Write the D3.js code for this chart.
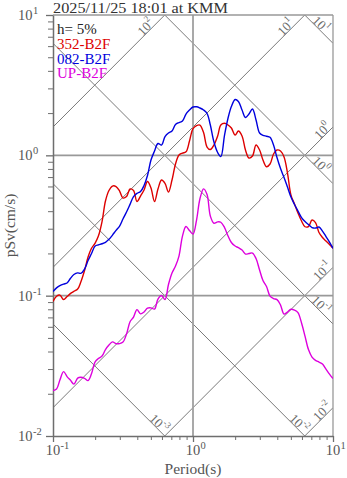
<!DOCTYPE html>
<html>
<head>
<meta charset="utf-8">
<script src="https://cdn.jsdelivr.net/npm/d3@7"></script>
<style>
  html, body { margin: 0; padding: 0; background: #fff; }
  svg { display: block; }
  text { font-family: "Liberation Serif", "Times New Roman", serif; }
</style>
</head>
<body>
<div id="chart"></div>
<script>
// Natural periods (s) shared by the three spectra
const periods = [0.100, 0.106, 0.112, 0.119, 0.126, 0.133, 0.141, 0.150, 0.158, 0.168,
  0.178, 0.188, 0.200, 0.211, 0.224, 0.237, 0.251, 0.266, 0.282, 0.299,
  0.316, 0.335, 0.355, 0.376, 0.398, 0.422, 0.447, 0.473, 0.501, 0.531,
  0.562, 0.596, 0.631, 0.668, 0.708, 0.750, 0.794, 0.841, 0.891, 0.944,
  1.00, 1.06, 1.12, 1.19, 1.26, 1.33, 1.41, 1.50, 1.58, 1.68,
  1.78, 1.88, 2.00, 2.11, 2.24, 2.37, 2.51, 2.66, 2.82, 2.99,
  3.16, 3.35, 3.55, 3.76, 3.98, 4.22, 4.47, 4.73, 5.01, 5.31,
  5.62, 5.96, 6.31, 6.68, 7.08, 7.50, 7.94, 8.41, 8.91, 9.44, 10.0];

// Pseudo velocity response (cm/s), damping h = 5%
const sv352 = [0.0908, 0.0990, 0.1010, 0.0938, 0.0985, 0.1035, 0.1073, 0.1114, 0.1250, 0.1510,
  0.1884, 0.2167, 0.2371, 0.2659, 0.3374, 0.4724, 0.5613, 0.6043, 0.5993, 0.5567,
  0.4962, 0.5085, 0.5753, 0.5613, 0.4685, 0.5128, 0.5660, 0.6505, 0.5848, 0.4685,
  0.5753, 0.6667, 0.6316, 0.5475, 0.6667, 0.867, 1.005, 1.038, 1.059, 1.264,
  1.552, 1.631, 1.644, 1.454, 1.146, 1.100, 1.184, 1.373, 1.644, 1.691,
  1.644, 1.565, 1.395, 1.490, 1.373, 1.091, 0.957, 0.989, 1.184, 1.091,
  0.926, 0.829, 0.867, 1.022, 1.091, 1.073, 0.972, 0.748, 0.521, 0.4496,
  0.3879, 0.3402, 0.3098, 0.3108, 0.3458, 0.3319, 0.2817, 0.2595, 0.2449, 0.2312, 0.2174];

const sv082 = [0.1070, 0.1136, 0.1180, 0.1210, 0.1230, 0.1324, 0.1414, 0.1454, 0.1442, 0.1547,
  0.1779, 0.1989, 0.2258, 0.2302, 0.2344, 0.2399, 0.2519, 0.2703, 0.2920, 0.3133,
  0.3516, 0.3943, 0.4474, 0.5085, 0.5360, 0.5521, 0.6092, 0.7178, 0.9259, 1.073,
  1.214, 1.184, 1.361, 1.442, 1.490, 1.658, 1.713, 1.756, 1.969, 2.103,
  2.210, 2.217, 2.174, 2.103, 1.986, 1.644, 1.250, 1.047, 0.980, 1.395,
  1.845, 2.228, 2.499, 2.418, 2.103, 1.860, 1.969, 2.138, 1.785, 1.442,
  1.389, 1.368, 1.344, 1.184, 0.9645, 0.805, 0.695, 0.594, 0.5044, 0.4460,
  0.4009, 0.3603, 0.3374, 0.3211, 0.3058, 0.3032, 0.3083, 0.2887, 0.2638, 0.2410, 0.2174];

const svUP = [0.02106, 0.02159, 0.02503, 0.02877, 0.02651, 0.02503, 0.02344, 0.02586, 0.02620, 0.02577,
  0.02483, 0.02762, 0.03380, 0.03562, 0.03711, 0.04128, 0.04445, 0.04685, 0.04556, 0.04556,
  0.04670, 0.05324, 0.06516, 0.07039, 0.07959, 0.07419, 0.07641, 0.08157, 0.0819, 0.08025,
  0.09458, 0.1002, 0.0938, 0.1200, 0.1449, 0.1626, 0.1915, 0.2659, 0.3108, 0.2911,
  0.2749, 0.3458, 0.4882, 0.5772, 0.5254, 0.3693, 0.3281, 0.3357, 0.3335, 0.3058,
  0.2659, 0.2391, 0.2258, 0.2198, 0.2113, 0.1980, 0.1996, 0.2012, 0.1838, 0.1522,
  0.1281, 0.1161, 0.0993, 0.0954, 0.0937, 0.0857, 0.0739, 0.0764, 0.0800, 0.0789,
  0.0758, 0.0638, 0.0515, 0.04128, 0.03651, 0.03458, 0.03362, 0.03254, 0.02998, 0.02762, 0.02565];

const seriesNames = ["352-B2F", "082-B2F", "UP-B2F"];
const seriesColors = ["#dd0000", "#0000dd", "#dd00dd"];
const seriesValues = [sv352, sv082, svUP];

// Tripartite guide lines: constant acceleration (cm/s²) and displacement (cm)
const accelLevels = [0.01, 0.1, 1, 10, 100];
const dispLevels = [0.001, 0.01, 0.1, 1, 10];
const accelLabels = ["-2", "-1", "0", "1", "2"];
const dispLabels = ["-3", "-2", "-1", "0", "1"];

const xMajor = [0.1, 1, 10];
const yMajor = [0.01, 0.1, 1, 10];
const xExp = ["-1", "0", "1"];
const yExp = ["-2", "-1", "0", "1"];

const titleText = "2025/11/25 18:01 at KMM";
const dampingText = "h= 5%";

const W = 347, H = 478;
const L = 53, R = 333, T = 15, B = 436;

const svg = d3.select("#chart").append("svg").attr("width", W).attr("height", H);

const x = d3.scaleLog().domain([0.1, 10]).range([L, R]);
const y = d3.scaleLog().domain([0.01, 10]).range([B, T]);

svg.append("defs").append("clipPath").attr("id", "plotclip")
  .append("rect").attr("x", L).attr("y", T).attr("width", R - L).attr("height", B - T);

const guide = svg.append("g").attr("clip-path", "url(#plotclip)");
const TWO_PI = 2 * Math.PI;

// acceleration lines: Sv = Sa*T/(2π)
accelLevels.forEach(sa => {
  guide.append("line")
    .attr("x1", x(0.1)).attr("y1", y(sa * 0.1 / TWO_PI))
    .attr("x2", x(10)).attr("y2", y(sa * 10 / TWO_PI))
    .attr("stroke", "#7a7a7a").attr("stroke-width", 1);
});
// displacement lines: Sv = 2π*D/T
dispLevels.forEach(d => {
  guide.append("line")
    .attr("x1", x(0.1)).attr("y1", y(TWO_PI * d / 0.1))
    .attr("x2", x(10)).attr("y2", y(TWO_PI * d / 10))
    .attr("stroke", "#7a7a7a").attr("stroke-width", 1);
});

// major grid lines
guide.append("line").attr("x1", x(1)).attr("x2", x(1)).attr("y1", T).attr("y2", B)
  .attr("stroke", "#a0a0a0").attr("stroke-width", 1.8);
[0.1, 1].forEach(v => {
  guide.append("line").attr("x1", L).attr("x2", R).attr("y1", y(v)).attr("y2", y(v))
    .attr("stroke", "#999").attr("stroke-width", 1.6);
});

// labels on guide lines
const guideLabels = svg.append("g").attr("fill", "#6a6a6a").attr("font-size", 13);
function powerLabel(g, exp) {
  const t = g.append("text").attr("text-anchor", "middle").attr("dominant-baseline", "central");
  t.append("tspan").text("10");
  t.append("tspan").attr("font-size", 9).attr("dy", "-0.5em").text(exp);
  return t;
}
accelLevels.forEach((sa, i) => {
  const tTop = TWO_PI * 10 / sa;
  let ex, ey, along;
  if (tTop <= 10) { ex = x(tTop); ey = y(10); along = 22; }
  else { ex = x(10); ey = y(sa * 10 / TWO_PI); along = 10; }
  const cx = ex - along * Math.SQRT1_2 - 5.5 * Math.SQRT1_2;
  const cy = ey + along * Math.SQRT1_2 - 5.5 * Math.SQRT1_2;
  const g = guideLabels.append("g").attr("transform", `translate(${cx},${cy}) rotate(-45)`);
  powerLabel(g, accelLabels[i]);
});
dispLevels.forEach((d, i) => {
  const svRight = TWO_PI * d / 10;
  let ex, ey, along;
  if (svRight >= 0.01) { ex = x(10); ey = y(svRight); along = 22; }
  else { ex = x(TWO_PI * d / 0.01); ey = y(0.01); along = 13; }
  const cx = ex - along * Math.SQRT1_2 + 5.5 * Math.SQRT1_2;
  const cy = ey - along * Math.SQRT1_2 - 5.5 * Math.SQRT1_2;
  const g = guideLabels.append("g").attr("transform", `translate(${cx},${cy}) rotate(45)`);
  powerLabel(g, dispLabels[i]);
});

// frame
svg.append("line").attr("x1", L).attr("x2", R).attr("y1", T).attr("y2", T).attr("stroke", "#999").attr("stroke-width", 1.3);
svg.append("line").attr("x1", R).attr("x2", R).attr("y1", T).attr("y2", B).attr("stroke", "#999").attr("stroke-width", 1.3);

// axes
const minorX = [], minorY = [];
[0.1, 1].forEach(dec => { for (let k = 1; k <= 9; k++) minorX.push(dec * k); });
minorX.push(10);
[0.01, 0.1, 1].forEach(dec => { for (let k = 1; k <= 9; k++) minorY.push(dec * k); });
minorY.push(10);

const xAxisG = svg.append("g").attr("transform", `translate(0,${B})`)
  .call(d3.axisBottom(x).tickValues(minorX).tickSize(4).tickSizeOuter(0).tickFormat(""));
const yAxisG = svg.append("g").attr("transform", `translate(${L},0)`)
  .call(d3.axisLeft(y).tickValues(minorY).tickSize(5).tickSizeOuter(0).tickFormat(""));
[xAxisG, yAxisG].forEach(g => {
  g.select(".domain").attr("stroke", "#6e6e6e").attr("stroke-width", 1.5);
  g.selectAll(".tick line").attr("stroke", "#6e6e6e").attr("stroke-width", 1);
});
xAxisG.selectAll(".tick").filter(d => xMajor.some(m => Math.abs(m - d) < 1e-9))
  .select("line").attr("y2", 6).attr("stroke-width", 1.3);
yAxisG.selectAll(".tick").filter(d => yMajor.some(m => Math.abs(m - d) < 1e-9))
  .select("line").attr("x2", -7).attr("stroke-width", 1.3);

const tickLab = svg.append("g").attr("fill", "#555").attr("font-size", 14.5);
xMajor.forEach((v, i) => {
  tickLab.append("text").attr("x", x(v)).attr("y", 455).attr("text-anchor", "middle").text("10");
  tickLab.append("text").attr("x", x(v) + 7.5).attr("y", 449).attr("font-size", 10.5).text(xExp[i]);
});
yMajor.forEach((v, i) => {
  tickLab.append("text").attr("x", 18).attr("y", y(v) + 5).text("10");
  tickLab.append("text").attr("x", 33).attr("y", y(v) - 1).attr("font-size", 10.5).text(yExp[i]);
});

svg.append("text").attr("x", (L + R) / 2).attr("y", 474).attr("text-anchor", "middle")
  .attr("fill", "#555").attr("font-size", 15.5).text("Period(s)");
svg.append("text").attr("transform", `translate(15,${(T + B) / 2}) rotate(-90)`)
  .attr("text-anchor", "middle").attr("fill", "#555").attr("font-size", 15.5).text("pSv(cm/s)");

// spectra
const lineGen = d3.line().x(d => x(d[0])).y(d => y(d[1])).curve(d3.curveCatmullRom.alpha(0.5));
const curves = svg.append("g").attr("clip-path", "url(#plotclip)");
seriesValues.forEach((vals, i) => {
  curves.append("path")
    .datum(periods.map((p, j) => [p, vals[j]]))
    .attr("fill", "none").attr("stroke", seriesColors[i]).attr("stroke-width", 1.4)
    .attr("stroke-linejoin", "round").attr("d", lineGen);
});

// title and legend
svg.append("text").attr("x", L).attr("y", 13.3).attr("fill", "#333").attr("font-size", 15)
  .attr("textLength", 175).attr("lengthAdjust", "spacingAndGlyphs").text(titleText);
svg.append("text").attr("x", 57).attr("y", 34).attr("fill", "#222").attr("font-size", 15).text(dampingText);
seriesNames.forEach((n, i) => {
  svg.append("text").attr("x", 57).attr("y", 49 + i * 14.5).attr("fill", seriesColors[i])
    .attr("font-size", 15).text(n);
});
</script>
</body>
</html>
